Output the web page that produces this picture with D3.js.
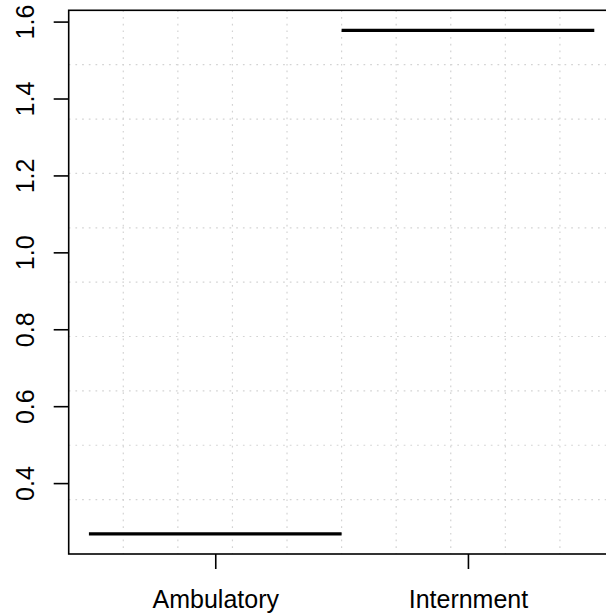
<!DOCTYPE html>
<html><head><meta charset="utf-8">
<script src="https://cdn.jsdelivr.net/npm/d3@7"></script>
<style>html,body{margin:0;padding:0;background:#fff;}svg{display:block;}</style>
</head><body>
<script>
const categories = ["Ambulatory", "Internment"];
const values = [0.268, 1.577];
const yTicks = [0.4, 0.6, 0.8, 1.0, 1.2, 1.4, 1.6];

(function () {
const W = 606, H = 616;
const pLeft = 68.7, pRight = 614.5, pTop = 10.3, pBottom = 554;
const font = "'Liberation Sans', Arial, sans-serif";

const svg = d3.select("body").append("svg").attr("width", W).attr("height", H);

const xLo = 0.5, xHi = categories.length + 0.5;
const xExt = (xHi - xLo) * 0.04;
const x = d3.scaleLinear().domain([xLo - xExt, xHi + xExt]).range([pLeft, pRight]);
const yMin = d3.min(values), yMax = d3.max(values);
const yExt = (yMax - yMin) * 0.04;
const y = d3.scaleLinear().domain([yMin - yExt, yMax + yExt]).range([pBottom, pTop]);

// grid (10 x 10 cells)
const gx = d3.range(1, 10).map(i => x.domain()[0] + i * (x.domain()[1] - x.domain()[0]) / 10);
const gy = d3.range(1, 10).map(i => y.domain()[0] + i * (y.domain()[1] - y.domain()[0]) / 10);
const grid = svg.append("g").attr("stroke", "#d3d3d3").attr("stroke-width", 1.2).attr("stroke-dasharray", "1.7,5");
grid.selectAll("line.v").data(gx).enter().append("line")
  .attr("x1", d => x(d)).attr("x2", d => x(d)).attr("y1", pTop).attr("y2", pBottom);
grid.selectAll("line.h").data(gy).enter().append("line")
  .attr("x1", pLeft).attr("x2", pRight).attr("y1", d => y(d)).attr("y2", d => y(d));

// segments
svg.append("g").selectAll("line").data(values).enter().append("line")
  .attr("x1", (d, i) => x(i + 1 - 0.5)).attr("x2", (d, i) => x(i + 1 + 0.5))
  .attr("y1", d => y(d)).attr("y2", d => y(d))
  .attr("stroke", "#000").attr("stroke-width", 3.2);

// box
svg.append("rect").attr("x", pLeft).attr("y", pTop).attr("width", pRight - pLeft).attr("height", pBottom - pTop)
  .attr("fill", "none").attr("stroke", "#000").attr("stroke-width", 1.6);

// y axis
const yAxis = d3.axisLeft(y).tickValues(yTicks).tickFormat(d3.format(".1f")).tickSize(15).tickSizeOuter(0);
const ga = svg.append("g").attr("transform", `translate(${pLeft},0)`).call(yAxis);
ga.select(".domain").remove();
ga.selectAll(".tick line").attr("stroke", "#000").attr("stroke-width", 1.6);
ga.selectAll(".tick text").attr("font-family", font).attr("font-size", 25).attr("fill", "#000")
  .attr("text-anchor", "middle").attr("dy", 0).attr("x", 0).attr("y", 0)
  .attr("transform", "translate(-34.5,0) rotate(-90)");

// x axis
const xAxis = d3.axisBottom(x).tickValues(categories.map((c, i) => i + 1)).tickFormat((d, i) => categories[i]).tickSize(15).tickSizeOuter(0);
const gb = svg.append("g").attr("transform", `translate(0,${pBottom})`).call(xAxis);
gb.select(".domain").remove();
gb.selectAll(".tick line").attr("stroke", "#000").attr("stroke-width", 1.6);
gb.selectAll(".tick text").attr("font-family", font).attr("font-size", 25).attr("fill", "#000")
  .attr("dy", 0).attr("y", 54);
})();
</script>
</body></html>
